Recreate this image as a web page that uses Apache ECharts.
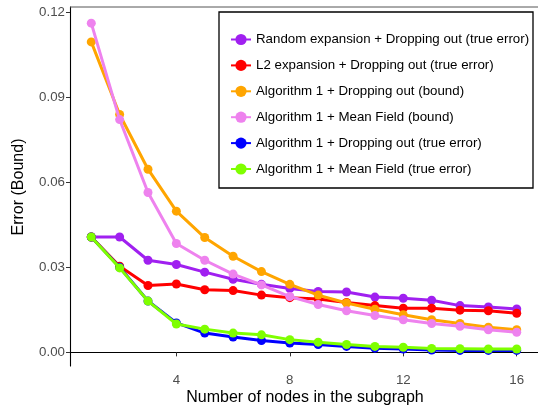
<!DOCTYPE html>
<html>
<head>
<meta charset="utf-8">
<script src="https://cdn.jsdelivr.net/npm/echarts@6/dist/echarts.min.js"></script>
<style>html,body{margin:0;padding:0;background:#fff;}#c{width:538px;height:408px;}</style>
</head>
<body>
<div id="c"></div>
<script>
const nodes = [1,2,3,4,5,6,7,8,9,10,11,12,13,14,15,16];
const xTicks = [4,8,12,16];
const yTicks = [0,0.03,0.06,0.09,0.12];
const seriesNames = [
  'Random expansion + Dropping out (true error)',
  'L2 expansion + Dropping out (true error)',
  'Algorithm 1 + Dropping out (bound)',
  'Algorithm 1 + Mean Field (bound)',
  'Algorithm 1 + Dropping out (true error)',
  'Algorithm 1 + Mean Field (true error)'
];
const randomDrop = [0.0407,0.0407,0.0325,0.0310,0.0283,0.0258,0.0240,0.0225,0.0215,0.0213,0.0195,0.0191,0.0184,0.0165,0.0160,0.0153];
const l2Drop     = [0.0407,0.0304,0.0236,0.0241,0.0221,0.0218,0.0202,0.0193,0.0188,0.0176,0.0165,0.0156,0.0156,0.0149,0.0147,0.0138];
const alg1DropBound = [0.1095,0.0839,0.0646,0.0498,0.0405,0.0339,0.0285,0.0240,0.0202,0.0174,0.0152,0.0133,0.0115,0.0102,0.0089,0.0080];
const alg1MFBound   = [0.1161,0.0821,0.0564,0.0384,0.0325,0.0276,0.0238,0.0197,0.0169,0.0147,0.0130,0.0115,0.0102,0.0092,0.0080,0.0071];
const alg1DropTrue  = [0.0407,0.0300,0.0181,0.0104,0.0068,0.0054,0.0042,0.0033,0.0028,0.0021,0.0015,0.0012,0.0008,0.0007,0.0007,0.0007];
const alg1MFTrue    = [0.0407,0.0298,0.0181,0.0100,0.0082,0.0068,0.0062,0.0045,0.0036,0.0028,0.0021,0.0018,0.0014,0.0013,0.0012,0.0012];
const values = [randomDrop,l2Drop,alg1DropBound,alg1MFBound,alg1DropTrue,alg1MFTrue];
const colors = ['#a020f0','#ff0000','#ffa500','#ee82ee','#0000ff','#7fff00'];

const chart = echarts.init(document.getElementById('c'), null, {renderer:'canvas'});
const font = 'Liberation Sans, Arial, Helvetica, sans-serif';
chart.setOption({
  animation:false,
  backgroundColor:'#fff',
  grid:{left:70, right:-3, top:7, bottom:42, containLabel:false},
  xAxis:{
    type:'value', min:0.25, max:16.75,
    axisLine:{show:true, lineStyle:{color:'#000', width:1.1}},
    axisTick:{show:true, length:4, customValues:xTicks, lineStyle:{color:'#333'}},
    axisLabel:{customValues:xTicks, color:'#4d4d4d', fontSize:13.3, fontFamily:font, margin:8},
    splitLine:{show:false}
  },
  yAxis:{
    type:'value', min:-0.0048, max:0.1218,
    axisLine:{show:true, lineStyle:{color:'#000', width:1.1}},
    axisTick:{show:true, length:4, customValues:yTicks, lineStyle:{color:'#333'}},
    axisLabel:{customValues:yTicks, color:'#4d4d4d', fontSize:13.3, fontFamily:font, margin:5,
      formatter:v=>v.toFixed(2)},
    splitLine:{show:false}
  },
  legend:{
    orient:'vertical', left:230, top:33, padding:0,
    itemWidth:20, itemHeight:14, itemGap:12.9,
    textStyle:{fontSize:13.3, fontFamily:font, color:'#000'},
    data:seriesNames
  },
  graphic:[
    {type:'rect', shape:{x:219, y:12, width:314, height:176}, style:{fill:'none', stroke:'#000', lineWidth:1.3}, z:100},
    {type:'line', shape:{x1:70, y1:7, x2:538, y2:7}, style:{stroke:'#555', lineWidth:1}, z:100},
    {type:'text', x:305, y:398, style:{text:'Number of nodes in the subgraph', fontSize:16, fontFamily:font, fill:'#000', align:'center', verticalAlign:'middle'}},
    {type:'text', x:19, y:187, rotation:Math.PI/2, style:{text:'Error (Bound)', fontSize:16, fontFamily:font, fill:'#000', align:'center', verticalAlign:'middle'}}
  ],
  series: values.map((vals,i)=>({
    name:seriesNames[i], type:'line',
    data: nodes.map((n,j)=>[n, vals[j]]),
    symbol:'circle', symbolSize:9,
    lineStyle:{width:3, color:colors[i]},
    itemStyle:{color:colors[i]},
    z: 2+i
  }))
});
</script>
</body>
</html>
